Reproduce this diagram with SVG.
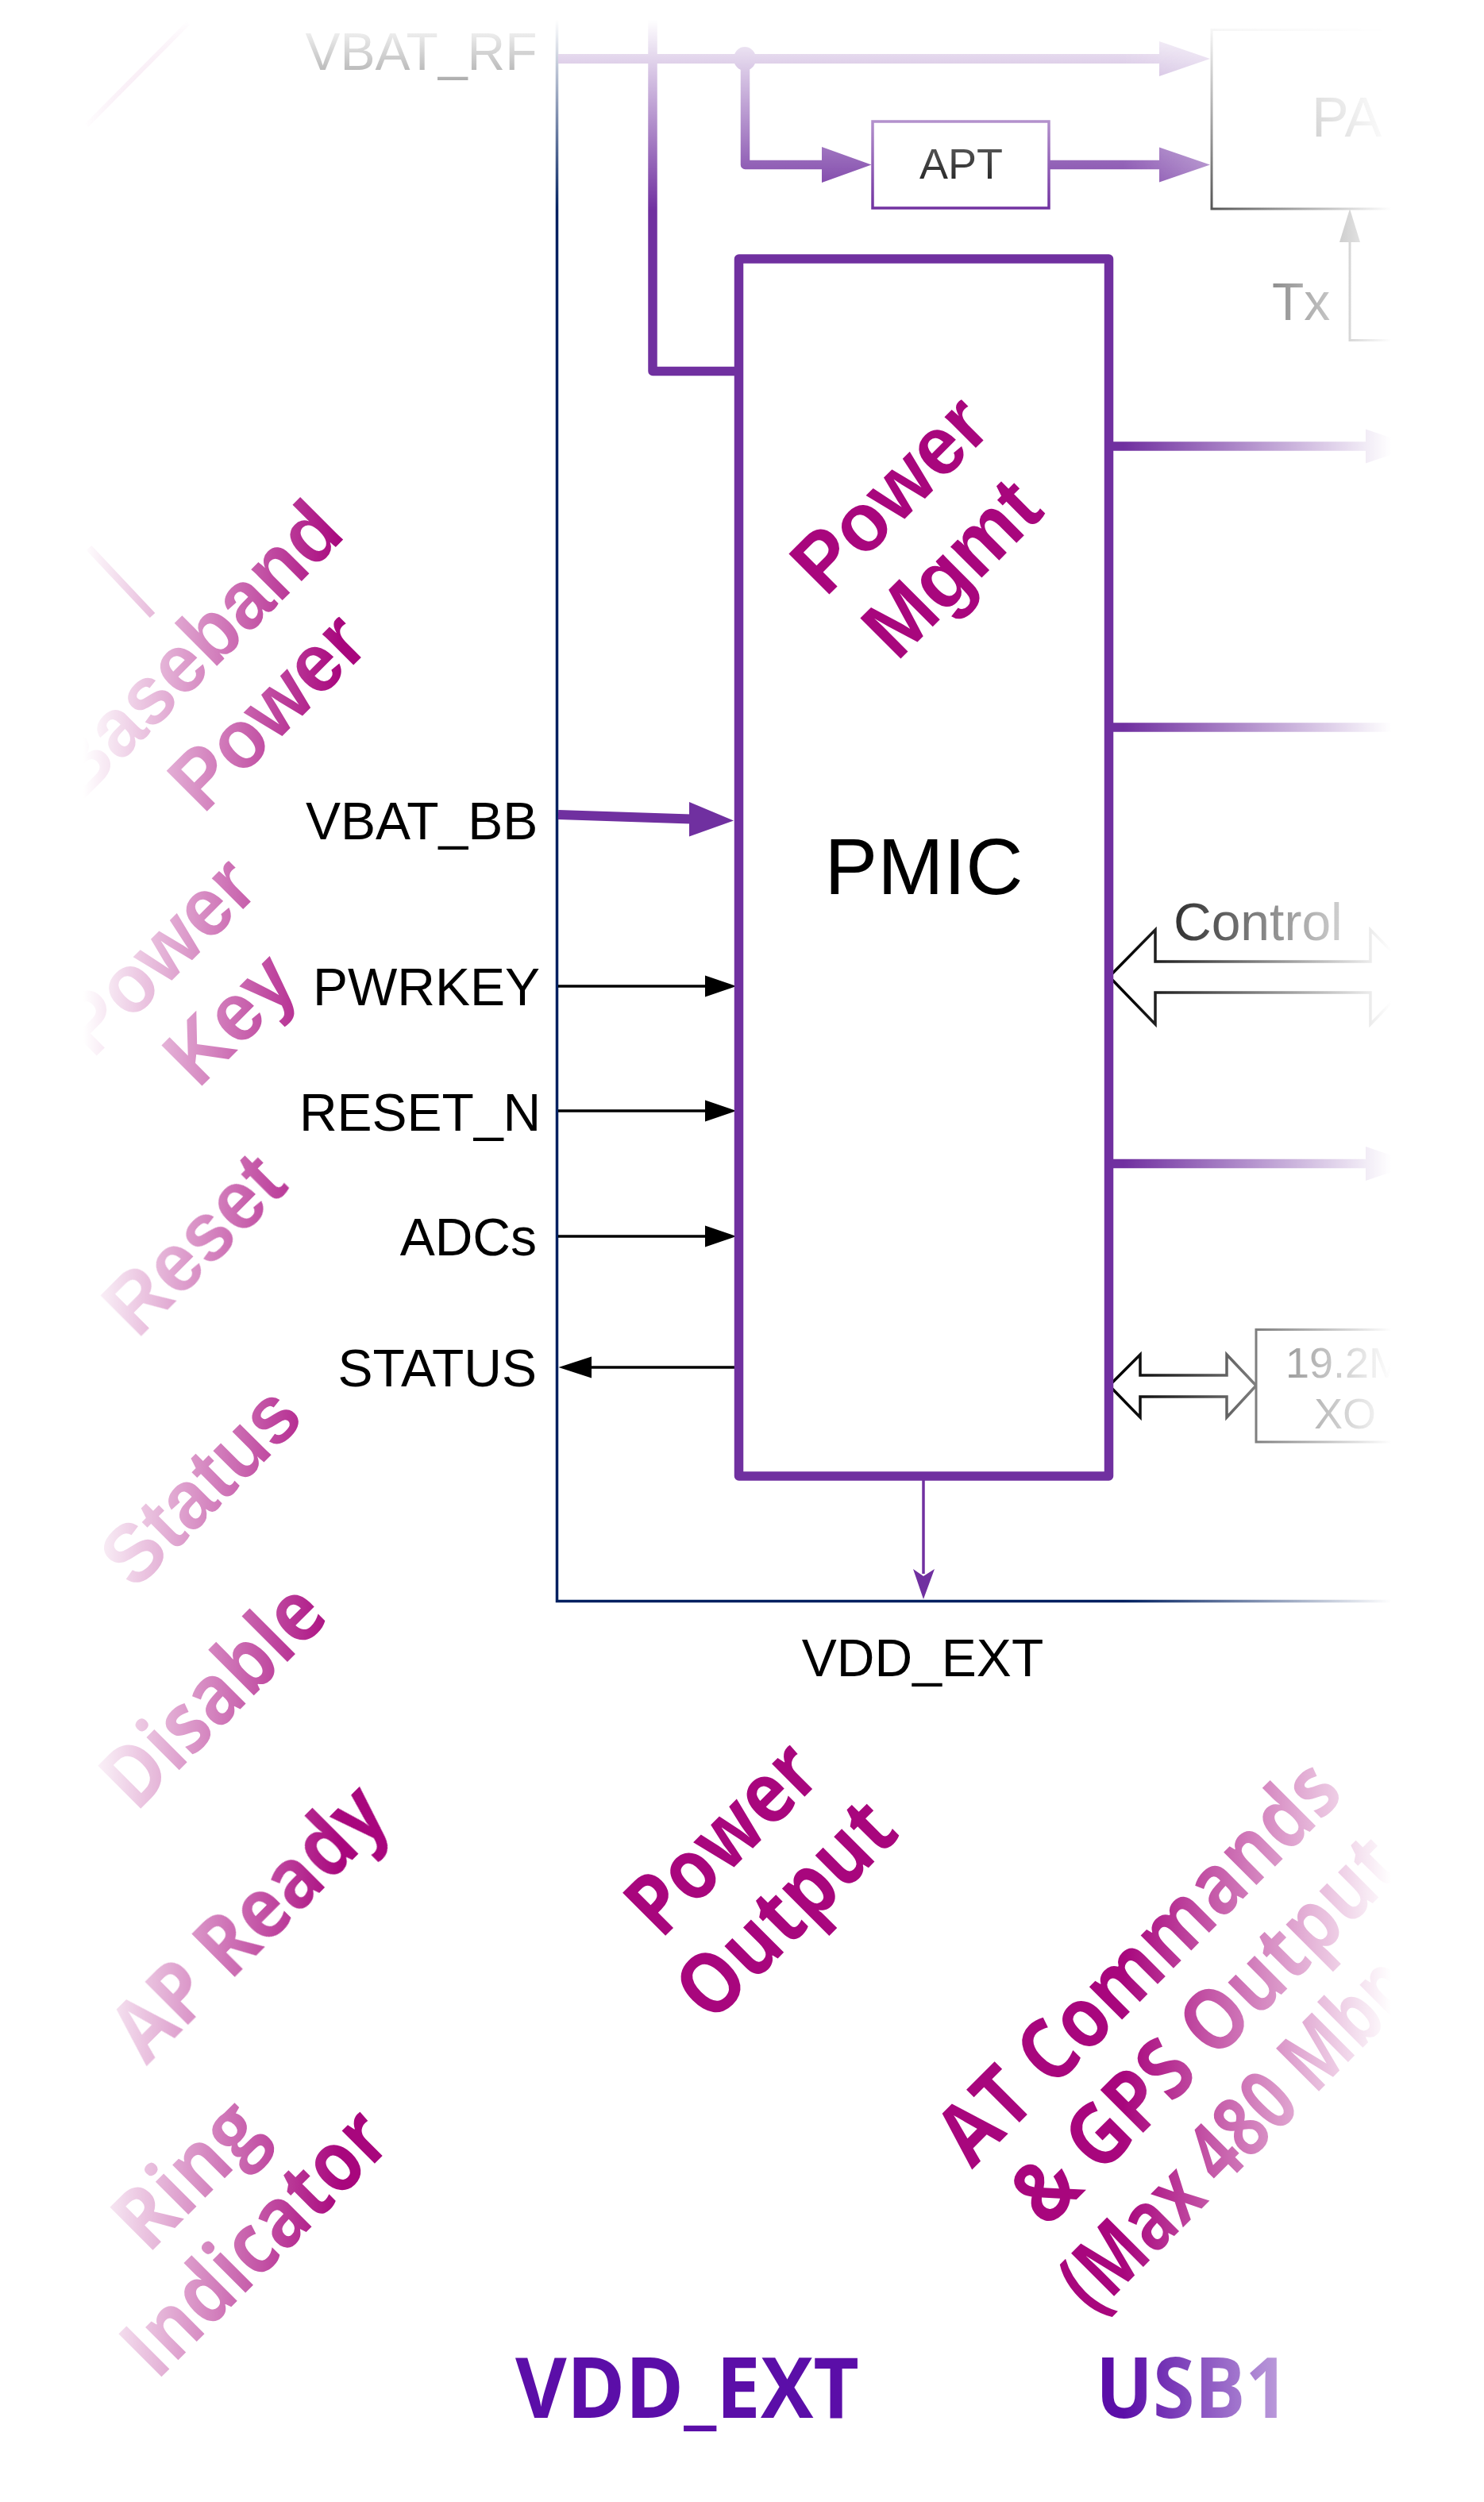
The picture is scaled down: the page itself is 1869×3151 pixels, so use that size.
<svg xmlns="http://www.w3.org/2000/svg" width="1869" height="3151" viewBox="0 0 1869 3151">
<defs>
<style>
.lbl{font-family:"Liberation Sans",Arial,sans-serif;font-size:66px;fill:#000}
.rb{font-family:"Liberation Sans",Arial,sans-serif;font-weight:700;font-size:105px;fill:#A8067D}
.hb{font-family:"Open Sans","Noto Sans",sans-serif;font-weight:700;font-size:107px;fill:#A8067D}
.big{font-family:"Open Sans","Noto Sans",sans-serif;font-weight:700;font-size:106px;fill:#5B0EA8}
.pl{fill:none;stroke:#7030A0;stroke-width:11.5;stroke-linejoin:round;stroke-linecap:butt}
.pf{fill:#7030A0}
.bl{fill:none;stroke:#000;stroke-width:3.5}
.bf{fill:#000}
.hollow{fill:#fff;stroke:#000;stroke-width:3.5;stroke-linejoin:miter}
.box{fill:#fff;stroke:#000;stroke-width:3}
</style>
<linearGradient id="gTop" gradientUnits="userSpaceOnUse" x1="0" y1="25" x2="0" y2="265">
<stop offset="0" stop-color="#000"/><stop offset="1" stop-color="#fff"/>
</linearGradient>
<linearGradient id="gRight" gradientUnits="userSpaceOnUse" x1="1415" y1="0" x2="1752" y2="0">
<stop offset="0" stop-color="#fff"/><stop offset="1" stop-color="#000"/>
</linearGradient>
<linearGradient id="gLeft" gradientUnits="userSpaceOnUse" x1="105" y1="0" x2="430" y2="0">
<stop offset="0" stop-color="#000"/><stop offset="1" stop-color="#fff"/>
</linearGradient>
<mask id="mTop" maskUnits="userSpaceOnUse" x="0" y="0" width="1869" height="3151">
<rect x="0" y="0" width="1869" height="3151" fill="url(#gTop)"/>
</mask>
<mask id="mRight" maskUnits="userSpaceOnUse" x="0" y="0" width="1869" height="3151">
<rect x="0" y="0" width="1869" height="3151" fill="url(#gRight)"/>
</mask>
<mask id="mLeft" maskUnits="userSpaceOnUse" x="0" y="0" width="1869" height="3151">
<rect x="0" y="0" width="1869" height="3151" fill="url(#gLeft)"/>
</mask>
</defs>
<rect x="0" y="0" width="1869" height="3151" fill="#fff"/>
<g mask="url(#mRight)">
<g mask="url(#mTop)">

<g id="connectors">
<path class="bl" d="M701.5 0 V2016.5 H1800" style="stroke:#002060;stroke-width:3.5"/>
<path class="pl" d="M822 0 V467.5 H931"/>
<path class="pl" d="M703 74 H1462" style="stroke-width:12"/>
<ellipse class="pf" cx="938" cy="74" rx="14" ry="15"/>
<path class="pl" d="M938.5 74 V207.5 H1037"/>
<polygon class="pf" points="1035,185 1097.5,207.5 1035,230"/>
<polygon class="pf" points="1460,52 1524,74 1460,96"/>
<path class="pl" d="M1317 207.5 H1462" style="stroke-linecap:round"/>
<polygon class="pf" points="1460,185.5 1524,207.5 1460,229.5"/>
<path class="pl" d="M703 1026 L870 1031.5" style="stroke-width:12"/>
<polygon class="pf" points="868,1010 924,1033.5 868,1053.5"/>
<path class="bl" d="M703 1242 H890"/>
<polygon class="bf" points="888,1228.5 927.5,1242 888,1255.5"/>
<path class="bl" d="M703 1399 H890"/>
<polygon class="bf" points="888,1385.5 927.5,1399 888,1412.5"/>
<path class="bl" d="M703 1557 H890"/>
<polygon class="bf" points="888,1543.5 927.5,1557 888,1570.5"/>
<path class="bl" d="M932 1722 H743"/>
<polygon class="bf" points="745,1708.5 703.5,1722 745,1735.5"/>
<path class="pl" d="M1396 562 H1722"/>
<polygon class="pf" points="1720,540.5 1783,562 1720,583.5"/>
<path class="pl" d="M1396 916 H1790"/>
<path class="pl" d="M1396 1465.5 H1722"/>
<polygon class="pf" points="1720,1444 1783,1465.5 1720,1487"/>
<polygon class="hollow" points="1397,1230 1455,1171 1455,1211 1726,1211 1726,1171 1784,1230 1726,1290 1726,1250 1455,1250 1455,1290"/>
<polygon class="hollow" points="1397,1745 1436,1706 1436,1732 1545,1732 1545,1706 1582,1745 1545,1785 1545,1759 1436,1759 1436,1785"/>
<path class="pl" d="M1163 1864 V1982" style="stroke-width:3.5"/>
<polygon class="pf" points="1150,1976 1163,2014 1177,1976 1163,1985"/>
<path class="bl" d="M1770 428.5 H1700 V300" style="stroke-width:3"/>
<polygon class="bf" points="1687,305 1700,263 1713,305"/>
</g>

<g id="node-pmic">
<rect x="930.5" y="326" width="466" height="1533" fill="#fff" stroke="#7030A0" stroke-width="11.5" stroke-linejoin="round"/>
<text class="lbl" x="1163.5" y="1126" text-anchor="middle" style="font-size:100px">PMIC</text>
<text class="rb" transform="translate(1039.8 753.2) rotate(-45) scale(0.95 1)">Power</text>
<text class="rb" transform="translate(1129.8 834.2) rotate(-45) scale(0.95 1)">Mgmt</text>
</g>

<g id="node-apt">
<rect x="1099" y="153" width="222" height="109" fill="#fff" stroke="#7030A0" stroke-width="3.5"/>
<text class="lbl" x="1210.5" y="225" text-anchor="middle" style="font-size:54px">APT</text>
</g>

<g id="node-pa">
<rect class="box" x="1526" y="37.5" width="320" height="225.5"/>
<text class="lbl" x="1652" y="171.5" style="font-size:70px">PA</text>
</g>

<g id="node-xo">
<rect class="box" x="1582" y="1674.5" width="226" height="141.5"/>
<text class="lbl" x="1694" y="1735" text-anchor="middle" style="font-size:54px">19.2M</text>
<text class="lbl" x="1694" y="1799" text-anchor="middle" style="font-size:54px">XO</text>
</g>

<g id="signal-labels">
<text class="lbl" x="676.6" y="88" text-anchor="end">VBAT_RF</text>
<text class="lbl" x="677.3" y="1057" text-anchor="end">VBAT_BB</text>
<text class="lbl" x="680" y="1266" text-anchor="end">PWRKEY</text>
<text class="lbl" x="681.3" y="1424" text-anchor="end">RESET_N</text>
<text class="lbl" x="676" y="1581" text-anchor="end">ADCs</text>
<text class="lbl" x="676" y="1746" text-anchor="end">STATUS</text>
<text class="lbl" x="1162" y="2111" text-anchor="middle">VDD_EXT</text>
<text class="lbl" x="1478" y="1184">Control</text>
<text class="lbl" x="1602" y="403">Tx</text>
</g>

<g id="function-labels-left" mask="url(#mLeft)">
<line x1="109" y1="158" x2="237" y2="29" stroke="#A8067D" stroke-width="6"/>
<line x1="112" y1="690" x2="192" y2="775" stroke="#A8067D" stroke-width="9"/>
<text class="rb" transform="translate(99.9 1012) rotate(-45) scale(0.95 1)">Baseband</text>
<text class="rb" transform="translate(256 1026.6) rotate(-45) scale(0.95 1)">Power</text>
<text class="rb" transform="translate(117 1334.3) rotate(-45) scale(0.95 1)">Power</text>
<text class="rb" transform="translate(249.8 1372.2) rotate(-45) scale(0.95 1)">Key</text>
<text class="rb" transform="translate(173.4 1687.8) rotate(-45) scale(0.95 1)">Reset</text>
<text class="rb" transform="translate(170 2004) rotate(-45) scale(0.95 1)">Status</text>
<text class="hb" transform="translate(171.2 2283.8) rotate(-45)" textLength="347" lengthAdjust="spacingAndGlyphs">Disable</text>
<text class="hb" transform="translate(184.2 2601.9) rotate(-45)" textLength="439" lengthAdjust="spacingAndGlyphs">AP Ready</text>
<text class="hb" transform="translate(186.2 2840.1) rotate(-45)" textLength="214" lengthAdjust="spacingAndGlyphs">Ring</text>
<text class="hb" transform="translate(197.4 2999.3) rotate(-45)" textLength="423" lengthAdjust="spacingAndGlyphs">Indicator</text>
</g>

<g id="function-labels-bottom">
<text class="hb" transform="translate(832.2 2443.8) rotate(-45)" textLength="291" lengthAdjust="spacingAndGlyphs">Power</text>
<text class="hb" transform="translate(895.8 2550.2) rotate(-45)" textLength="339" lengthAdjust="spacingAndGlyphs">Output</text>
<text class="hb" transform="translate(1224.2 2732.4) rotate(-45)" textLength="666" lengthAdjust="spacingAndGlyphs">AT Commands</text>
<text class="hb" transform="translate(1318 2807.7) rotate(-45)" textLength="640" lengthAdjust="spacingAndGlyphs">&amp; GPS Output</text>
<text class="hb" transform="translate(1377.8 2917) rotate(-45)" textLength="648" lengthAdjust="spacingAndGlyphs">(Max 480 Mbps)</text>
<text class="big" x="649" y="3045" textLength="433" lengthAdjust="spacingAndGlyphs">VDD_EXT</text>
<text class="big" x="1380" y="3045" textLength="243" lengthAdjust="spacingAndGlyphs">USB1</text>
</g>

</g>
</g>
</svg>
